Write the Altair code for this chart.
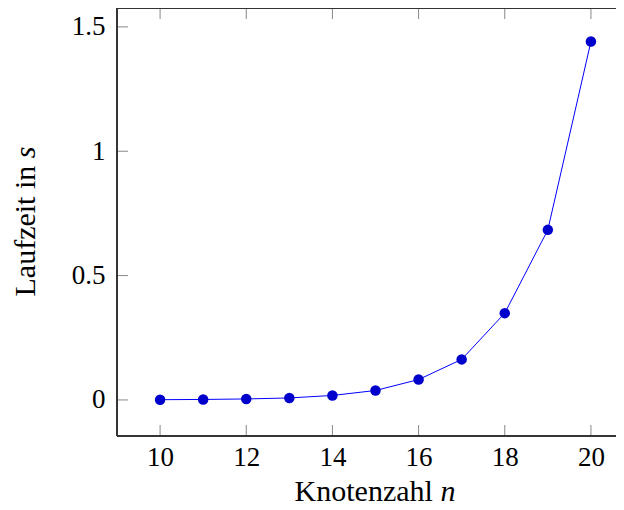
import altair as alt
import pandas as pd

# data
knoten = [10, 11, 12, 13, 14, 15, 16, 17, 18, 19, 20]
laufzeit = [0.001, 0.002, 0.004, 0.008, 0.018, 0.038, 0.082, 0.163, 0.349, 0.684, 1.441]
x_ticks = [10, 12, 14, 16, 18, 20]
y_ticks = [0, 0.5, 1, 1.5]
x_title = ["Knotenzahl"]
x_title_var = ["n"]
y_title = ["Laufzeit in"]
y_title_var = ["s"]

W, H = 499, 428
FONT = "Liberation Serif"
TICK_LEN = 11
FRAME = "#333"

df = pd.DataFrame({"n": knoten, "t": laufzeit})
xt = pd.DataFrame({"v": x_ticks})
yt = pd.DataFrame({"v": y_ticks})

# the reference's plot frame runs past the right edge of the picture
xscale = alt.Scale(domain=[9, 20.582], nice=False, zero=False)
yscale = alt.Scale(domain=[-0.145, 1.576], nice=False, zero=False)

xaxis = alt.Axis(values=x_ticks, ticks=False, tickSize=0, domain=False, grid=False,
                 labelFont=FONT, labelFontSize=27, labelColor="#000", labelPadding=8,
                 title=None)
yaxis = alt.Axis(values=y_ticks, ticks=False, tickSize=0, domain=False, grid=False,
                 labelFont=FONT, labelFontSize=27, labelColor="#000", labelPadding=12,
                 labelExpr="'' + datum.value", title=None)

line = alt.Chart(df).mark_line(color="#0000ff", strokeWidth=1).encode(
    x=alt.X("n:Q", scale=xscale, axis=xaxis),
    y=alt.Y("t:Q", scale=yscale, axis=yaxis),
)
pts = alt.Chart(df).mark_circle(size=110, color="#0000cc", opacity=1).encode(
    x=alt.X("n:Q", scale=xscale),
    y=alt.Y("t:Q", scale=yscale),
)

tick_style = dict(color="#888", strokeWidth=1)
tb = alt.Chart(xt).mark_rule(**tick_style).encode(
    x=alt.X("v:Q", scale=xscale), y=alt.value(H), y2=alt.value(H - TICK_LEN))
tt = alt.Chart(xt).mark_rule(**tick_style).encode(
    x=alt.X("v:Q", scale=xscale), y=alt.value(0), y2=alt.value(TICK_LEN))
tl = alt.Chart(yt).mark_rule(**tick_style).encode(
    y=alt.Y("v:Q", scale=yscale), x=alt.value(0), x2=alt.value(TICK_LEN))

# frame: top, bottom, left (right side lies outside the picture)
frame_top = alt.Chart(xt).mark_rule(color=FRAME, strokeWidth=1).encode(
    x=alt.value(0), x2=alt.value(W), y=alt.value(0.5))
frame_bot = alt.Chart(xt).mark_rule(color=FRAME, strokeWidth=1).encode(
    x=alt.value(0), x2=alt.value(W), y=alt.value(H))
frame_left = alt.Chart(xt).mark_rule(color=FRAME, strokeWidth=1).encode(
    x=alt.value(0), y=alt.value(0), y2=alt.value(H))

# axis titles (regular word + italic variable)
xt1 = alt.Chart(pd.DataFrame({"s": x_title})).mark_text(
    font=FONT, fontSize=30, color="#000", align="left", baseline="alphabetic").encode(
    text="s:N", x=alt.value(177.6), y=alt.value(493))
xt2 = alt.Chart(pd.DataFrame({"s": x_title_var})).mark_text(
    font=FONT, fontSize=30, fontStyle="italic", color="#000", align="left",
    baseline="alphabetic").encode(text="s:N", x=alt.value(323.4), y=alt.value(493))
yt1 = alt.Chart(pd.DataFrame({"s": y_title})).mark_text(
    font=FONT, fontSize=30, color="#000", align="left", baseline="alphabetic",
    angle=270).encode(text="s:N", x=alt.value(-82), y=alt.value(288.5))
yt2 = alt.Chart(pd.DataFrame({"s": y_title_var})).mark_text(
    font=FONT, fontSize=30, fontStyle="italic", color="#000", align="left",
    baseline="alphabetic", angle=270).encode(text="s:N", x=alt.value(-82), y=alt.value(150.2))

chart = alt.layer(line, tb, tt, tl, frame_top, frame_bot, frame_left, pts,
                  xt1, xt2, yt1, yt2).properties(
    width=W, height=H,
    autosize=alt.AutoSizeParams(type="none"),
    padding={"left": 109, "top": 0, "right": 0, "bottom": 66},
    background="white",
).configure_view(stroke=None)

chart.save("out.html", embed_options={"renderer": "svg", "actions": False})
